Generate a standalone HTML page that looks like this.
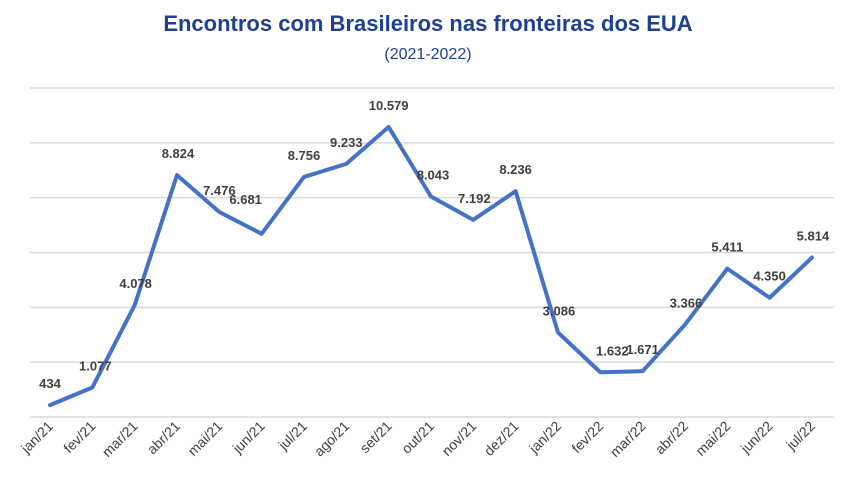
<!DOCTYPE html>
<html><head><meta charset="utf-8"><style>
body{margin:0;background:#fff;width:851px;height:476px;overflow:hidden;font-family:"Liberation Sans",sans-serif}
</style></head><body>
<svg width="851" height="476" id="chart">
<text x="428" y="31" text-anchor="middle" font-size="22" font-weight="bold" fill="#1f3f8f">Encontros com Brasileiros nas fronteiras dos EUA</text>
<text x="428" y="59" text-anchor="middle" font-size="16" fill="#1f3f8f">(2021-2022)</text>
<g id="grid"></g><g id="xlabels"></g><g id="series"></g><g id="vlabels"></g>
</svg>
<script>
const categories=["jan/21","fev/21","mar/21","abr/21","mai/21","jun/21","jul/21","ago/21","set/21","out/21","nov/21","dez/21","jan/22","fev/22","mar/22","abr/22","mai/22","jun/22","jul/22"];
const values=[434,1077,4078,8824,7476,6681,8756,9233,10579,8043,7192,8236,3086,1632,1671,3366,5411,4350,5814];
const valueLabels=["434","1.077","4.078","8.824","7.476","6.681","8.756","9.233","10.579","8.043","7.192","8.236","3.086","1.632","1.671","3.366","5.411","4.350","5.814"];
const gridTicks=[0,2000,4000,6000,8000,10000,12000];
const NS="http://www.w3.org/2000/svg";
const x0=50,dx=42.33,yBase=417,yMax=12000,yTop=88;
const X=i=>x0+i*dx;
const Y=v=>yBase-(v/yMax)*(yBase-yTop);
const grid=document.getElementById('grid');
gridTicks.forEach(t=>{const l=document.createElementNS(NS,'line');
l.setAttribute('x1',30);l.setAttribute('x2',834);l.setAttribute('y1',Y(t));l.setAttribute('y2',Y(t));
l.setAttribute('stroke','#d9d9d9');l.setAttribute('stroke-width','1.5');


grid.appendChild(l);});
const xl=document.getElementById('xlabels');
categories.forEach((c,i)=>{const t=document.createElementNS(NS,'text');
t.setAttribute('transform',`translate(${X(i)+4},${yBase+10}) rotate(-45)`);
t.setAttribute('text-anchor','end');t.setAttribute('font-size','14');t.setAttribute('fill','#404040');
t.textContent=c;


xl.appendChild(t);});
const p=document.createElementNS(NS,'polyline');
p.setAttribute('points',values.map((v,i)=>X(i)+','+Y(v)).join(' '));
p.setAttribute('fill','none');p.setAttribute('stroke','#4472c4');p.setAttribute('stroke-width','4');p.setAttribute('stroke-linejoin','round');p.setAttribute('stroke-linecap','round');


document.getElementById('series').appendChild(p);
const vl=document.getElementById('vlabels');
const offX=[0,3,1,1,0,-16,0,0,0,2,1,0,1,12,0,1,0,0,1];
values.forEach((v,i)=>{const t=document.createElementNS(NS,'text');
t.setAttribute('x',X(i)+offX[i]);t.setAttribute('y',Y(v)-(i==5?30:17));
t.setAttribute('text-anchor','middle');t.setAttribute('font-size','13');t.setAttribute('font-weight','bold');t.setAttribute('fill','#404040');
t.textContent=valueLabels[i];


vl.appendChild(t);});
</script>
</body></html>
